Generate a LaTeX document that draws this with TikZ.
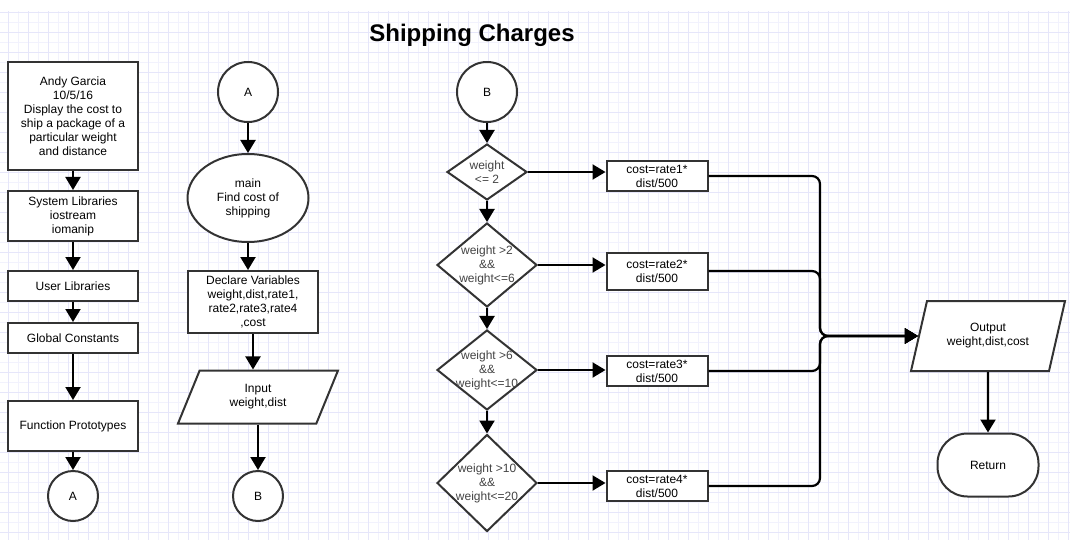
\documentclass[tikz,border=0pt]{standalone}
\usepackage{fontspec}
\setmainfont{Liberation Sans}
\usetikzlibrary{shapes.geometric,arrows.meta,positioning}

\definecolor{gridlo}{RGB}{242,242,253}
\definecolor{gridhi}{RGB}{230,230,250}
\definecolor{edge}{RGB}{51,51,51}
\definecolor{dectext}{RGB}{68,68,68}

\begin{document}
\begin{tikzpicture}[
    x=1pt, y=-1pt,
    every node/.style={font=\fontsize{12}{14}\selectfont, align=center},
    proc/.style={draw=edge, line width=2pt, rectangle, fill=white,
                 minimum width=130pt, inner sep=2pt},
    ratebox/.style={draw=edge, line width=2pt, rectangle, fill=white,
                 minimum width=101pt, minimum height=30pt, inner sep=1pt},
    conn/.style={draw=edge, line width=2pt, circle, fill=white, inner sep=0pt},
    dec/.style={draw=edge, line width=2pt, diamond, fill=white, inner sep=0pt,
                minimum width=100pt},
    dectxt/.style={text=dectext},
    io/.style={draw=edge, line width=2pt, trapezium, fill=white,
               trapezium stretches body, inner sep=2pt},
    term/.style={draw=edge, line width=2pt, rectangle, rounded corners=30pt,
                 fill=white, minimum width=101pt, minimum height=63pt},
    flow/.style={-{Triangle[length=13pt,width=15pt]}, line width=2.2pt},
    mergeline/.style={line width=2.2pt, rounded corners=8pt},
]
\useasboundingbox (0,0) rectangle (1070,540);

%% background grid
\foreach \gx in {18,38,...,1068} \draw[gridlo] (\gx,11) -- (\gx,540);
\foreach \gy in {22,42,...,532} \draw[gridlo] (0,\gy) -- (1070,\gy);
\foreach \gx in {8,28,...,1068} \draw[gridhi] (\gx,11) -- (\gx,540);
\foreach \gy in {12,32,...,532} \draw[gridhi] (0,\gy) -- (1070,\gy);

\node[font=\fontsize{24}{28}\selectfont\bfseries] (title) at (472,35) {Shipping Charges};

%% Header column
\node[proc, minimum height=108pt] (info) at (73,116)
    {Andy Garcia\\10/5/16\\Display the cost to\\ship a package of a\\particular weight\\and distance};
\node[proc, minimum height=50pt] (syslib) at (73,216) {System Libraries\\iostream\\iomanip};
\node[proc, minimum height=30pt] (usrlib) at (73,286) {User Libraries};
\node[proc, minimum height=30pt] (glob)   at (73,338) {Global Constants};
\node[proc, minimum height=50pt] (proto)  at (73,426) {Function Prototypes};
\node[conn, minimum size=50pt]   (toA)    at (73,496) {A};

\foreach \a/\b in {info/syslib, syslib/usrlib, usrlib/glob, glob/proto, proto/toA}
    \draw[flow] (\a) -- (\b);

%% main column
\node[conn, minimum size=60pt] (fromA) at (248,92) {A};
\node[draw=edge, line width=2pt, ellipse, fill=white,
      minimum width=121pt, minimum height=88pt] (main) at (248,198)
    {main\\Find cost of\\shipping};
\node[proc, minimum height=62pt] (decl) at (253,302)
    {Declare Variables\\weight,dist,rate1,\\rate2,rate3,rate4\\,cost};
\node[io, trapezium left angle=53, trapezium right angle=127,
      minimum width=160pt, minimum height=53pt] (inp) at (258,397)
    {Input\\weight,dist};
\node[conn, minimum size=50pt] (toB) at (258,496) {B};

\draw[flow] (fromA) -- (main);
\draw[flow] (main) -- (main |- decl.north);
\draw[flow] (decl.south) -- (decl.south |- inp.north);
\draw[flow] (inp) -- (toB);

%% rate selection
\node[conn, minimum size=60pt] (fromB) at (487,92) {B};
\node[dec, minimum width=80pt, minimum height=56pt,
      label={[dectxt]center:weight\\<= 2}] (d1) at (487,172) {};
\node[dec, minimum height=84pt,
      label={[dectxt]center:weight >2\\\&\&\\weight<=6}] (d2) at (487,265) {};
\node[dec, minimum height=80pt,
      label={[dectxt]center:weight >6\\\&\&\\weight<=10}] (d3) at (487,370) {};
\node[dec, minimum height=97pt,
      label={[dectxt]center:weight >10\\\&\&\\weight<=20}] (d4) at (487,483) {};

\node[ratebox] (r1) at (657,176) {cost=rate1*\\dist/500};
\node[ratebox, minimum height=37pt] (r2) at (657,271) {cost=rate2*\\dist/500};
\node[ratebox] (r3) at (657,371) {cost=rate3*\\dist/500};
\node[ratebox] (r4) at (657,486) {cost=rate4*\\dist/500};

\draw[flow] (fromB) -- (d1);
\draw[flow] (d1) -- (d2);
\draw[flow] (d2) -- (d3);
\draw[flow] (d3) -- (d4);
\foreach \i in {1,...,4}
    \draw[flow] (d\i.east) -- (d\i.east -| r\i.west);

%% output
\node[io, trapezium left angle=61, trapezium right angle=119,
      minimum width=154pt, minimum height=70pt] (out) at (988,336)
    {Output\\weight,dist,cost};
\node[term] (ret) at (988,465) {Return};
\coordinate (merge) at (820,336);

\foreach \i in {1,...,4}
    \draw[mergeline, flow] (r\i.east) -| (merge) -- (out.west);
\draw[flow] (out) -- (ret);

\end{tikzpicture}
\end{document}
